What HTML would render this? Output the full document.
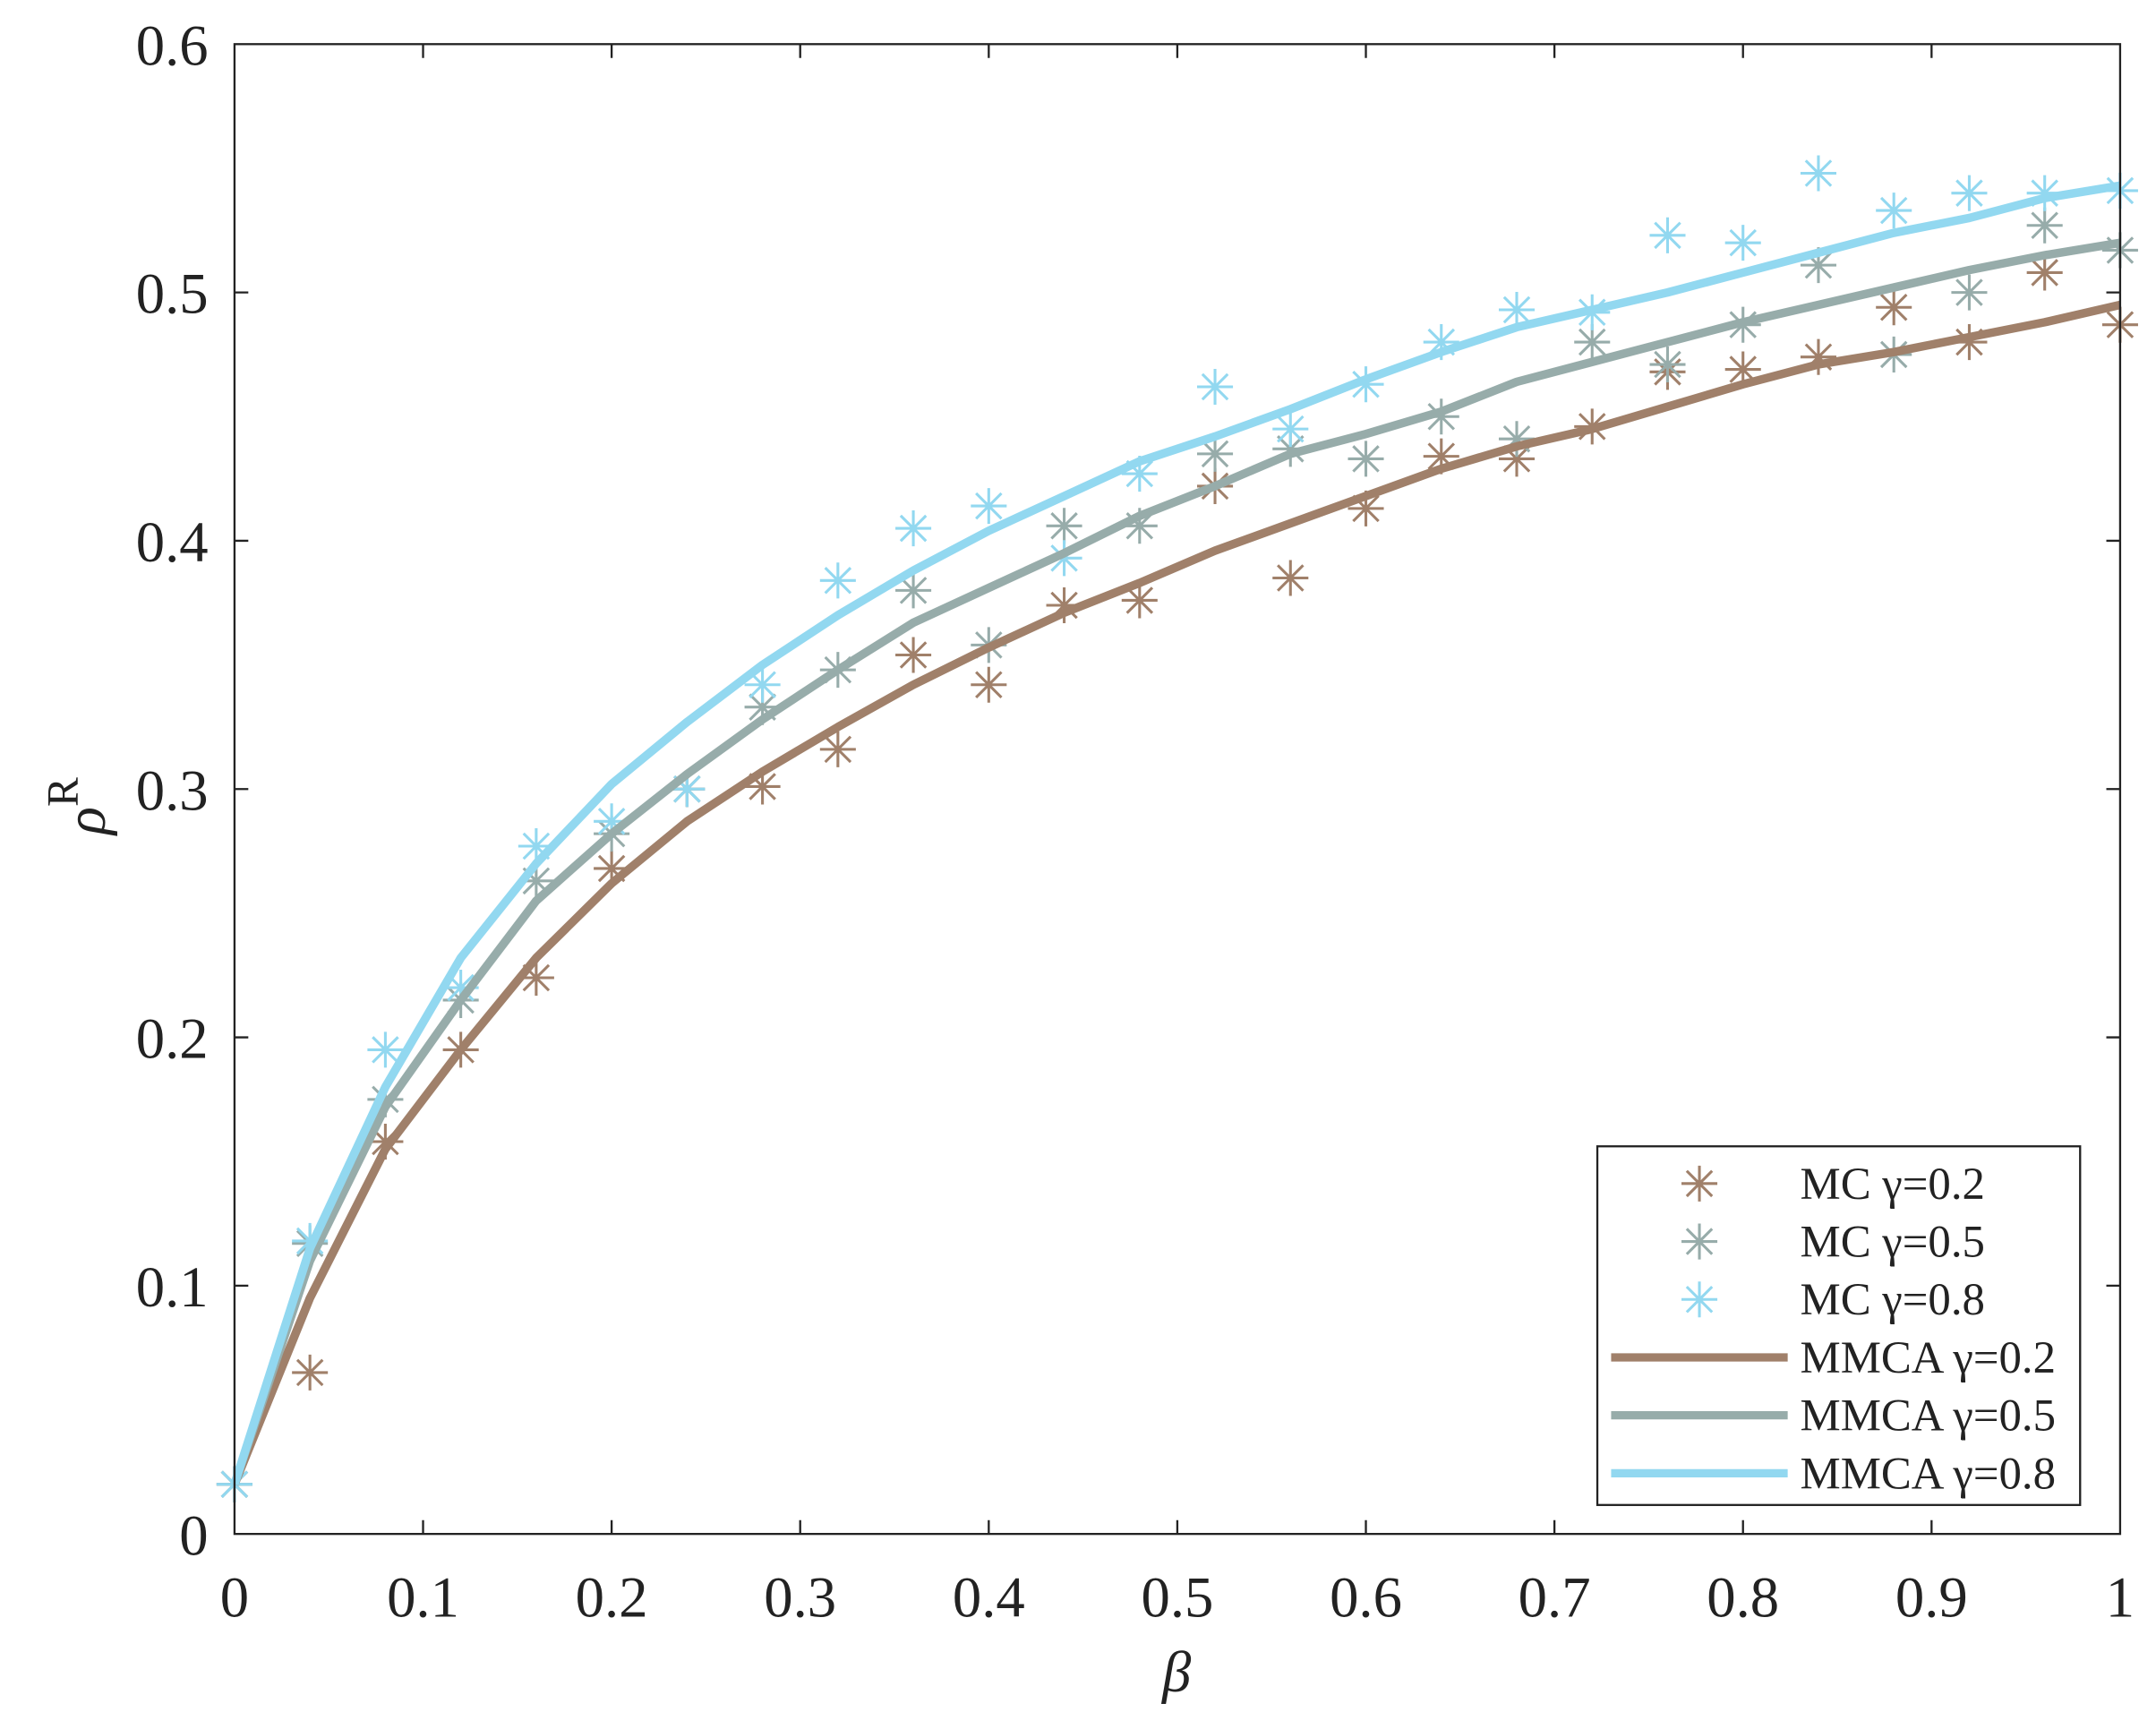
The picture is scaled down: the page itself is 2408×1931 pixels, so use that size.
<!DOCTYPE html>
<html><head><meta charset="utf-8"><style>html,body{margin:0;padding:0;background:#fff}svg{display:block}</style></head>
<body>
<svg width="2408" height="1931" viewBox="0 0 1563 1253.4" xmlns="http://www.w3.org/2000/svg">
<defs>
<g id="s" fill="none" stroke-width="2">
<path d="M-13 0H13M0 -13V13M-9.2 -9.2L9.2 9.2M-9.2 9.2L9.2 -9.2"/>
</g>
</defs>
<rect width="1563" height="1253.4" fill="#fff"/>
<g transform="translate(170,1112) scale(1367,-1800)">
<g stroke="#a0806a">
<use href="#s" transform="translate(0,0.02) scale(0.0007315,-0.0005556)"/>
<use href="#s" transform="translate(0.04,0.065) scale(0.0007315,-0.0005556)"/>
<use href="#s" transform="translate(0.08,0.158) scale(0.0007315,-0.0005556)"/>
<use href="#s" transform="translate(0.12,0.195) scale(0.0007315,-0.0005556)"/>
<use href="#s" transform="translate(0.16,0.224) scale(0.0007315,-0.0005556)"/>
<use href="#s" transform="translate(0.2,0.268) scale(0.0007315,-0.0005556)"/>
<use href="#s" transform="translate(0.24,0.3) scale(0.0007315,-0.0005556)"/>
<use href="#s" transform="translate(0.28,0.301) scale(0.0007315,-0.0005556)"/>
<use href="#s" transform="translate(0.32,0.316) scale(0.0007315,-0.0005556)"/>
<use href="#s" transform="translate(0.36,0.354) scale(0.0007315,-0.0005556)"/>
<use href="#s" transform="translate(0.4,0.342) scale(0.0007315,-0.0005556)"/>
<use href="#s" transform="translate(0.44,0.374) scale(0.0007315,-0.0005556)"/>
<use href="#s" transform="translate(0.48,0.376) scale(0.0007315,-0.0005556)"/>
<use href="#s" transform="translate(0.52,0.422) scale(0.0007315,-0.0005556)"/>
<use href="#s" transform="translate(0.56,0.385) scale(0.0007315,-0.0005556)"/>
<use href="#s" transform="translate(0.6,0.413) scale(0.0007315,-0.0005556)"/>
<use href="#s" transform="translate(0.64,0.434) scale(0.0007315,-0.0005556)"/>
<use href="#s" transform="translate(0.68,0.433) scale(0.0007315,-0.0005556)"/>
<use href="#s" transform="translate(0.72,0.446) scale(0.0007315,-0.0005556)"/>
<use href="#s" transform="translate(0.76,0.468) scale(0.0007315,-0.0005556)"/>
<use href="#s" transform="translate(0.8,0.469) scale(0.0007315,-0.0005556)"/>
<use href="#s" transform="translate(0.84,0.474) scale(0.0007315,-0.0005556)"/>
<use href="#s" transform="translate(0.88,0.494) scale(0.0007315,-0.0005556)"/>
<use href="#s" transform="translate(0.92,0.48) scale(0.0007315,-0.0005556)"/>
<use href="#s" transform="translate(0.96,0.508) scale(0.0007315,-0.0005556)"/>
<use href="#s" transform="translate(1,0.487) scale(0.0007315,-0.0005556)"/>
</g>
<g stroke="#97acaa">
<use href="#s" transform="translate(0,0.02) scale(0.0007315,-0.0005556)"/>
<use href="#s" transform="translate(0.04,0.117) scale(0.0007315,-0.0005556)"/>
<use href="#s" transform="translate(0.08,0.175) scale(0.0007315,-0.0005556)"/>
<use href="#s" transform="translate(0.12,0.215) scale(0.0007315,-0.0005556)"/>
<use href="#s" transform="translate(0.16,0.263) scale(0.0007315,-0.0005556)"/>
<use href="#s" transform="translate(0.2,0.282) scale(0.0007315,-0.0005556)"/>
<use href="#s" transform="translate(0.24,0.3) scale(0.0007315,-0.0005556)"/>
<use href="#s" transform="translate(0.28,0.333) scale(0.0007315,-0.0005556)"/>
<use href="#s" transform="translate(0.32,0.348) scale(0.0007315,-0.0005556)"/>
<use href="#s" transform="translate(0.36,0.38) scale(0.0007315,-0.0005556)"/>
<use href="#s" transform="translate(0.4,0.358) scale(0.0007315,-0.0005556)"/>
<use href="#s" transform="translate(0.44,0.406) scale(0.0007315,-0.0005556)"/>
<use href="#s" transform="translate(0.48,0.406) scale(0.0007315,-0.0005556)"/>
<use href="#s" transform="translate(0.52,0.435) scale(0.0007315,-0.0005556)"/>
<use href="#s" transform="translate(0.56,0.437) scale(0.0007315,-0.0005556)"/>
<use href="#s" transform="translate(0.6,0.433) scale(0.0007315,-0.0005556)"/>
<use href="#s" transform="translate(0.64,0.45) scale(0.0007315,-0.0005556)"/>
<use href="#s" transform="translate(0.68,0.441) scale(0.0007315,-0.0005556)"/>
<use href="#s" transform="translate(0.72,0.48) scale(0.0007315,-0.0005556)"/>
<use href="#s" transform="translate(0.76,0.471) scale(0.0007315,-0.0005556)"/>
<use href="#s" transform="translate(0.8,0.487) scale(0.0007315,-0.0005556)"/>
<use href="#s" transform="translate(0.84,0.511) scale(0.0007315,-0.0005556)"/>
<use href="#s" transform="translate(0.88,0.475) scale(0.0007315,-0.0005556)"/>
<use href="#s" transform="translate(0.92,0.5) scale(0.0007315,-0.0005556)"/>
<use href="#s" transform="translate(0.96,0.527) scale(0.0007315,-0.0005556)"/>
<use href="#s" transform="translate(1,0.517) scale(0.0007315,-0.0005556)"/>
</g>
<g stroke="#92d8f0">
<use href="#s" transform="translate(0,0.02) scale(0.0007315,-0.0005556)"/>
<use href="#s" transform="translate(0.04,0.118) scale(0.0007315,-0.0005556)"/>
<use href="#s" transform="translate(0.08,0.195) scale(0.0007315,-0.0005556)"/>
<use href="#s" transform="translate(0.12,0.22) scale(0.0007315,-0.0005556)"/>
<use href="#s" transform="translate(0.16,0.277) scale(0.0007315,-0.0005556)"/>
<use href="#s" transform="translate(0.2,0.287) scale(0.0007315,-0.0005556)"/>
<use href="#s" transform="translate(0.24,0.3) scale(0.0007315,-0.0005556)"/>
<use href="#s" transform="translate(0.28,0.342) scale(0.0007315,-0.0005556)"/>
<use href="#s" transform="translate(0.32,0.384) scale(0.0007315,-0.0005556)"/>
<use href="#s" transform="translate(0.36,0.405) scale(0.0007315,-0.0005556)"/>
<use href="#s" transform="translate(0.4,0.414) scale(0.0007315,-0.0005556)"/>
<use href="#s" transform="translate(0.44,0.393) scale(0.0007315,-0.0005556)"/>
<use href="#s" transform="translate(0.48,0.427) scale(0.0007315,-0.0005556)"/>
<use href="#s" transform="translate(0.52,0.462) scale(0.0007315,-0.0005556)"/>
<use href="#s" transform="translate(0.56,0.445) scale(0.0007315,-0.0005556)"/>
<use href="#s" transform="translate(0.6,0.463) scale(0.0007315,-0.0005556)"/>
<use href="#s" transform="translate(0.64,0.48) scale(0.0007315,-0.0005556)"/>
<use href="#s" transform="translate(0.68,0.493) scale(0.0007315,-0.0005556)"/>
<use href="#s" transform="translate(0.72,0.492) scale(0.0007315,-0.0005556)"/>
<use href="#s" transform="translate(0.76,0.523) scale(0.0007315,-0.0005556)"/>
<use href="#s" transform="translate(0.8,0.52) scale(0.0007315,-0.0005556)"/>
<use href="#s" transform="translate(0.84,0.548) scale(0.0007315,-0.0005556)"/>
<use href="#s" transform="translate(0.88,0.533) scale(0.0007315,-0.0005556)"/>
<use href="#s" transform="translate(0.92,0.54) scale(0.0007315,-0.0005556)"/>
<use href="#s" transform="translate(0.96,0.54) scale(0.0007315,-0.0005556)"/>
<use href="#s" transform="translate(1,0.541) scale(0.0007315,-0.0005556)"/>
</g>
<g fill="none" stroke-linejoin="round">
<polyline vector-effect="non-scaling-stroke" stroke="#a0806a" stroke-width="9.5" points="0,0.02 0.04,0.095 0.08,0.155 0.12,0.195 0.16,0.232 0.2,0.262 0.24,0.287 0.28,0.307 0.32,0.325 0.36,0.342 0.4,0.357 0.44,0.371 0.48,0.383 0.52,0.396 0.56,0.407 0.6,0.418 0.64,0.429 0.68,0.438 0.72,0.445 0.76,0.454 0.8,0.463 0.84,0.471 0.88,0.476 0.92,0.482 0.96,0.488 1,0.495"/>
<polyline vector-effect="non-scaling-stroke" stroke="#97acaa" stroke-width="9.5" points="0,0.02 0.04,0.11 0.08,0.172 0.12,0.215 0.16,0.255 0.2,0.282 0.24,0.306 0.28,0.328 0.32,0.348 0.36,0.367 0.4,0.381 0.44,0.395 0.48,0.41 0.52,0.422 0.56,0.435 0.6,0.443 0.64,0.452 0.68,0.464 0.72,0.472 0.76,0.48 0.8,0.488 0.84,0.495 0.88,0.502 0.92,0.509 0.96,0.515 1,0.52"/>
<polyline vector-effect="non-scaling-stroke" stroke="#92d8f0" stroke-width="9.5" points="0,0.02 0.04,0.115 0.08,0.18 0.12,0.232 0.16,0.27 0.2,0.302 0.24,0.327 0.28,0.35 0.32,0.37 0.36,0.388 0.4,0.404 0.44,0.418 0.48,0.432 0.52,0.442 0.56,0.453 0.6,0.465 0.64,0.476 0.68,0.486 0.72,0.493 0.76,0.5 0.8,0.508 0.84,0.516 0.88,0.524 0.92,0.53 0.96,0.538 1,0.543"/>
</g>
</g>
<g stroke="#222" stroke-width="1.5" fill="none">
<rect x="170" y="32" width="1367" height="1080"/>
<path d="M306.7 1112v-10M443.4 1112v-10M580.1 1112v-10M716.8 1112v-10M853.5 1112v-10M990.2 1112v-10M1126.9 1112v-10M1263.6 1112v-10M1400.3 1112v-10
M306.7 32v10M443.4 32v10M580.1 32v10M716.8 32v10M853.5 32v10M990.2 32v10M1126.9 32v10M1263.6 32v10M1400.3 32v10
M170 932h10M170 752h10M170 572h10M170 392h10M170 212h10
M1537 932h-10M1537 752h-10M1537 572h-10M1537 392h-10M1537 212h-10"/>
</g>
<g font-family="Liberation Serif, serif" font-size="42" fill="#222">
<g text-anchor="end">
<text x="151" y="1127">0</text><text x="151" y="947">0.1</text><text x="151" y="767">0.2</text><text x="151" y="587">0.3</text><text x="151" y="407">0.4</text><text x="151" y="227">0.5</text><text x="151" y="47">0.6</text>
</g>
<g text-anchor="middle">
<text x="170" y="1172">0</text><text x="306.7" y="1172">0.1</text><text x="443.4" y="1172">0.2</text><text x="580.1" y="1172">0.3</text><text x="716.8" y="1172">0.4</text><text x="853.5" y="1172">0.5</text><text x="990.2" y="1172">0.6</text><text x="1126.9" y="1172">0.7</text><text x="1263.6" y="1172">0.8</text><text x="1400.3" y="1172">0.9</text><text x="1537" y="1172">1</text>
<text x="853" y="1226" font-style="italic" font-size="42">β</text>
</g>
<text transform="translate(76,605) rotate(-90)" font-size="42"><tspan font-style="italic">ρ</tspan><tspan dy="-20" font-size="32">R</tspan></text>
</g>
<rect x="1158" y="831" width="350" height="260" fill="#fff" stroke="#222" stroke-width="1.5"/>
<g stroke="#a0806a"><use href="#s" x="1232" y="858"/></g>
<g stroke="#97acaa"><use href="#s" x="1232" y="900"/></g>
<g stroke="#92d8f0"><use href="#s" x="1232" y="942"/></g>
<g stroke-width="6">
<line x1="1168" y1="984" x2="1296" y2="984" stroke="#a0806a"/>
<line x1="1168" y1="1026" x2="1296" y2="1026" stroke="#97acaa"/>
<line x1="1168" y1="1068" x2="1296" y2="1068" stroke="#92d8f0"/>
</g>
<g font-family="Liberation Serif, serif" font-size="33" fill="#222">
<text x="1305" y="869">MC γ=0.2</text>
<text x="1305" y="911">MC γ=0.5</text>
<text x="1305" y="953">MC γ=0.8</text>
<text x="1305" y="995">MMCA γ=0.2</text>
<text x="1305" y="1037">MMCA γ=0.5</text>
<text x="1305" y="1079">MMCA γ=0.8</text>
</g>
</svg>
</body></html>
